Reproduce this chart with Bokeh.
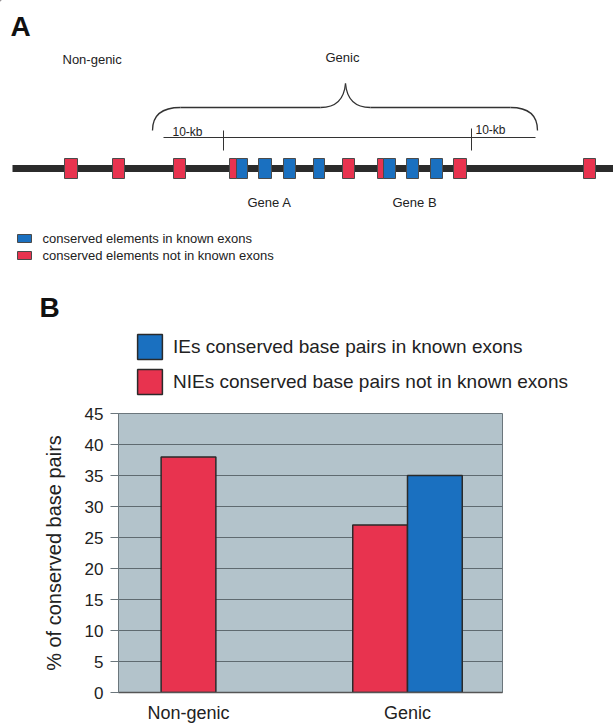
from bokeh.plotting import figure
from bokeh.models import Range1d, FixedTicker, Legend, LegendItem
from bokeh.layouts import column, row
from bokeh.embed import file_html
from bokeh.resources import INLINE
from bokeh.core.properties import value

FONT = "Liberation Sans"
RED = "#e8334f"
BLUE = "#1a70c0"
DARK = "#2b2b2b"
EDGE = "#2a2a2a"

# ---------------- Panel A: schematic data ----------------
element_left = [64, 112, 173, 229, 236, 258, 283, 313, 342, 377, 383, 406, 430, 453, 583]
element_right = [77, 124, 185, 236, 247, 271, 295, 324, 354, 383, 395, 418, 442, 466, 595]
element_kind = ["NIE", "NIE", "NIE", "NIE", "IE", "IE", "IE", "IE", "NIE",
                "NIE", "IE", "IE", "IE", "NIE", "NIE"]
gene_names = ["Gene A", "Gene B"]
gene_label_x = [247, 392]
region_labels = ["Non-genic", "Genic"]
region_label_x = [62, 325]
flank_label = "10-kb"
flank_label_x = [172, 475]
flank_tick_x = [223, 471]
legend_a_labels = ["conserved elements in known exons",
                   "conserved elements not in known exons"]

# ---------------- Panel B: bar chart data ----------------
categories = ["Non-genic", "Genic"]
nie_pct = [38, 27]
ie_pct = [None, 35]
legend_b_labels = ["IEs conserved base pairs in known exons",
                   "NIEs conserved base pairs not in known exons"]
y_ticks = [0, 5, 10, 15, 20, 25, 30, 35, 40, 45]
y_axis_title = "% of conserved base pairs"

# ================= Figure A (page pixel coordinates) =================
pa = figure(width=613, height=400, x_range=Range1d(0, 613), y_range=Range1d(400, 0),
            output_backend="svg", toolbar_location=None,
            x_axis_location=None, y_axis_location=None, min_border=0,
            outline_line_color=None)
pa.xgrid.visible = False
pa.ygrid.visible = False

pa.line(x=[12, 613], y=[168, 168], line_width=7, line_color=DARK)

el_colors = [BLUE if k == "IE" else RED for k in element_kind]
pa.quad(left=element_left, right=element_right, top=158, bottom=178,
        fill_color=el_colors, line_color="#4a4a4a", line_width=1)

pa.quadratic(x0=[152, 320, 345, 510], y0=[130, 107, 83, 107],
             x1=[180, 345, 370, 537], y1=[107, 83, 107, 130],
             cx=[152, 343, 347, 537], cy=[107, 107, 107, 107],
             line_color="#333333", line_width=1.3)
pa.segment(x0=[180, 370], y0=[107, 107], x1=[320, 510], y1=[107, 107],
           line_color="#333333", line_width=1.3)

pa.segment(x0=[163], y0=[137], x1=[535], y1=[137], line_color="#333333", line_width=1)
pa.segment(x0=flank_tick_x, y0=[130, 128], x1=flank_tick_x, y1=[150, 150],
           line_color="#333333", line_width=1)

txt = dict(text_font=value(FONT), text_color="#222222", text_baseline="middle")
pa.text(x=flank_label_x, y=[131, 129], text=[flank_label, flank_label],
        text_font_size="12px", **txt)
pa.text(x=region_label_x, y=[59, 57], text=region_labels, text_font_size="13px", **txt)
pa.text(x=gene_label_x, y=[202, 202], text=gene_names, text_font_size="13px", **txt)

pa.quad(left=[17, 17], right=[31, 31], top=[234, 251], bottom=[242, 259],
        fill_color=[BLUE, RED], line_color="#4a4a4a", line_width=1)
pa.text(x=[42, 42], y=[238, 255], text=legend_a_labels, text_font_size="13px", **txt)

pa.text(x=[10, 39], y=[26, 307], text=["A", "B"], text_font=value(FONT),
        text_font_style="bold", text_font_size="28px", text_color="#111111",
        text_baseline="middle")

# legend of panel B (hosted above the chart); key renderers sit outside the view
key_ie = pa.vbar(x=[-500], top=[-500], bottom=[-490], width=1,
                 fill_color=BLUE, line_color=EDGE, line_width=1.5)
key_nie = pa.vbar(x=[-500], top=[-500], bottom=[-490], width=1,
                  fill_color=RED, line_color=EDGE, line_width=1.5)
legend = Legend(items=[LegendItem(label=legend_b_labels[0], renderers=[key_ie]),
                       LegendItem(label=legend_b_labels[1], renderers=[key_nie])],
                location=(134, 3), orientation="vertical",
                glyph_width=31, glyph_height=31, spacing=4,
                padding=0, margin=0, label_standoff=8,
                label_text_font=FONT, label_text_font_size="19px",
                label_text_color="#222222", border_line_color=None,
                background_fill_alpha=0)
pa.add_layout(legend, "center")

# ================= Figure B =================
pb = figure(width=613, height=325,
            x_range=Range1d(-0.3196, 1.4338), y_range=Range1d(0, 45),
            output_backend="svg", toolbar_location=None,
            min_border_left=118, min_border_right=111,
            min_border_top=13, min_border_bottom=31,
            background_fill_color="#b3c3cb", border_fill_color="white",
            outline_line_color="#6b767c", outline_line_width=1)

bar_w = 0.25
nie_x, nie_y, ie_x, ie_y = [], [], [], []
for i, (n, e) in enumerate(zip(nie_pct, ie_pct)):
    if e is None:
        nie_x.append(i)
        nie_y.append(n)
    else:
        nie_x.append(i - bar_w / 2)
        nie_y.append(n)
        ie_x.append(i + bar_w / 2)
        ie_y.append(e)

pb.vbar(x=nie_x, top=nie_y, bottom=0, width=bar_w, fill_color=RED,
        line_color=EDGE, line_width=1.5)
pb.vbar(x=ie_x, top=ie_y, bottom=0, width=bar_w, fill_color=BLUE,
        line_color=EDGE, line_width=1.5)

pb.yaxis.ticker = FixedTicker(ticks=y_ticks)
pb.yaxis.major_tick_out = 8
pb.yaxis.major_tick_in = 0
pb.yaxis.minor_tick_line_color = None
pb.yaxis.major_tick_line_color = "#6b767c"
pb.yaxis.axis_line_color = "#6b767c"
pb.yaxis.major_label_text_font = FONT
pb.yaxis.major_label_text_font_size = "17px"
pb.yaxis.major_label_text_color = "#222222"
pb.yaxis.major_label_standoff = 7
pb.yaxis.axis_label = y_axis_title
pb.yaxis.axis_label_text_font = FONT
pb.yaxis.axis_label_text_font_size = "20px"
pb.yaxis.axis_label_text_font_style = "normal"
pb.yaxis.axis_label_text_color = "#222222"
pb.yaxis.axis_label_standoff = 17

pb.xaxis.ticker = FixedTicker(ticks=list(range(len(categories))))
pb.xaxis.major_label_overrides = {i: c for i, c in enumerate(categories)}
pb.xaxis.major_tick_out = 0
pb.xaxis.major_tick_in = 0
pb.xaxis.major_tick_line_color = None
pb.xaxis.minor_tick_line_color = None
pb.xaxis.axis_line_color = "#555555"
pb.xaxis.axis_line_width = 1.5
pb.xaxis.major_label_text_font = FONT
pb.xaxis.major_label_text_font_size = "18px"
pb.xaxis.major_label_text_color = "#222222"
pb.xaxis.major_label_standoff = 10

pb.xgrid.visible = False
pb.ygrid.ticker = FixedTicker(ticks=y_ticks)
pb.ygrid.grid_line_color = "#5f6a70"
pb.ygrid.grid_line_width = 1

layout = column(row(pa), row(pb))
open("out.html", "w").write(file_html(layout, INLINE))
